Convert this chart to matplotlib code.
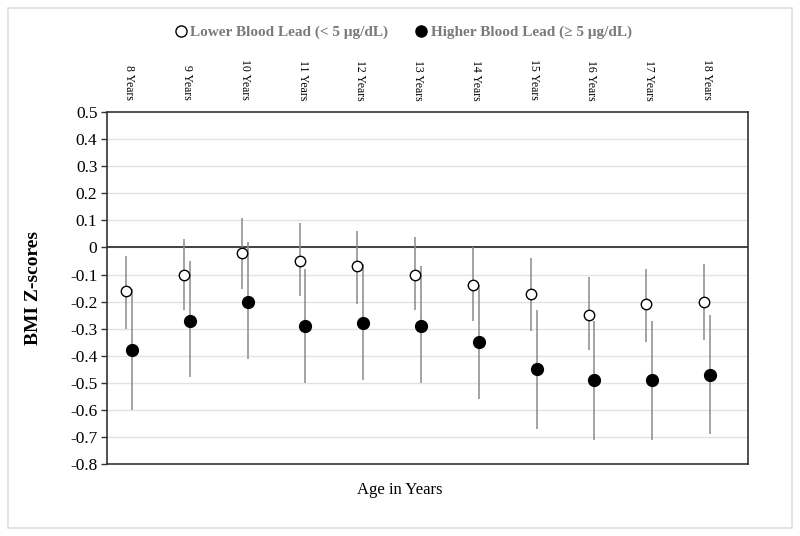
import matplotlib.pyplot as plt
import matplotlib.patches as mpatches
from matplotlib.lines import Line2D
import numpy as np

plt.rcParams['font.family'] = ['Liberation Serif', 'DejaVu Serif']

ages = ["8 Years", "9 Years", "10 Years", "11 Years", "12 Years", "13 Years",
        "14 Years", "15 Years", "16 Years", "17 Years", "18 Years"]

# lower blood lead (< 5 ug/dL)
low_mean = [-0.16, -0.10, -0.02, -0.05, -0.07, -0.10, -0.14, -0.17, -0.25, -0.21, -0.20]
low_upper = [-0.03, 0.03, 0.11, 0.09, 0.06, 0.04, 0.00, -0.04, -0.11, -0.08, -0.06]
low_lower = [-0.30, -0.23, -0.155, -0.18, -0.21, -0.23, -0.27, -0.31, -0.38, -0.35, -0.34]

# higher blood lead (>= 5 ug/dL)
high_mean = [-0.38, -0.27, -0.20, -0.29, -0.28, -0.29, -0.35, -0.45, -0.49, -0.49, -0.47]
high_upper = [-0.155, -0.05, 0.02, -0.08, -0.06, -0.07, -0.14, -0.23, -0.27, -0.27, -0.25]
high_lower = [-0.60, -0.48, -0.41, -0.50, -0.49, -0.50, -0.56, -0.67, -0.71, -0.71, -0.69]

x = np.arange(len(ages))
off = 0.05

fig = plt.figure(figsize=(8, 5.36), dpi=100)
ax = fig.add_axes([0.134, 0.134, 0.801, 0.657])

# light frame around the whole chart
fig.patches.append(mpatches.Rectangle((0.010, 0.015), 0.980, 0.970, transform=fig.transFigure,
                                      fill=False, edgecolor='#e0e0e0', lw=1.2))

for yv in np.arange(-0.7, 0.5, 0.1):
    ax.axhline(yv, color='#e2e2e2', lw=1, zorder=0)
ax.axhline(0, color='#333333', lw=1.3, zorder=1)

low_err = [np.array(low_mean) - np.array(low_lower), np.array(low_upper) - np.array(low_mean)]
high_err = [np.array(high_mean) - np.array(high_lower), np.array(high_upper) - np.array(high_mean)]

ax.errorbar(x - off, low_mean, yerr=low_err, fmt='o', mfc='white', mec='black', mew=1,
            ms=7.5, ecolor='#8a8a8a', elinewidth=1.1, capsize=0, zorder=3)
ax.errorbar(x + off, high_mean, yerr=high_err, fmt='o', mfc='black', mec='black',
            ms=8.5, ecolor='#8a8a8a', elinewidth=1.1, capsize=0, zorder=3)

ax.set_xlim(-0.38, 10.71)
ax.set_ylim(-0.8, 0.5)
ticks = np.round(np.arange(-0.8, 0.51, 0.1), 1)
ax.set_yticks(ticks)
ax.set_yticklabels([f"{v:.1f}" if abs(v) > 1e-9 else "0" for v in ticks], fontsize=12.5)
ax.tick_params(axis='y', direction='out', length=4, width=1, color='#333333', pad=3)

ax.xaxis.set_ticks_position('top')
ax.set_xticks(x)
ax.set_xticklabels(ages, rotation=-90, fontsize=8.5)
ax.tick_params(axis='x', length=0, pad=8.5)

for s in ax.spines.values():
    s.set_color('#333333')
    s.set_linewidth(1.2)

ax.set_ylabel('BMI Z-scores', fontsize=14, fontweight='bold', labelpad=20)
fig.text(0.5, 0.086, 'Age in Years', ha='center', va='center', fontsize=12)

handles = [Line2D([], [], ls='none', marker='o', mfc='white', mec='black', ms=8),
           Line2D([], [], ls='none', marker='o', mfc='black', mec='black', ms=8)]
labels = ['Lower Blood Lead (< 5 μg/dL)', 'Higher Blood Lead (≥ 5 μg/dL)']
leg = fig.legend(handles, labels, loc='center', bbox_to_anchor=(0.502, 0.94), ncol=2,
                 frameon=False, handletextpad=0.0, columnspacing=1.6, handlelength=1.2,
                 prop={'weight': 'bold', 'size': 11})
for t in leg.get_texts():
    t.set_color('#7a7a7a')

fig.savefig('out.png', dpi=100)
